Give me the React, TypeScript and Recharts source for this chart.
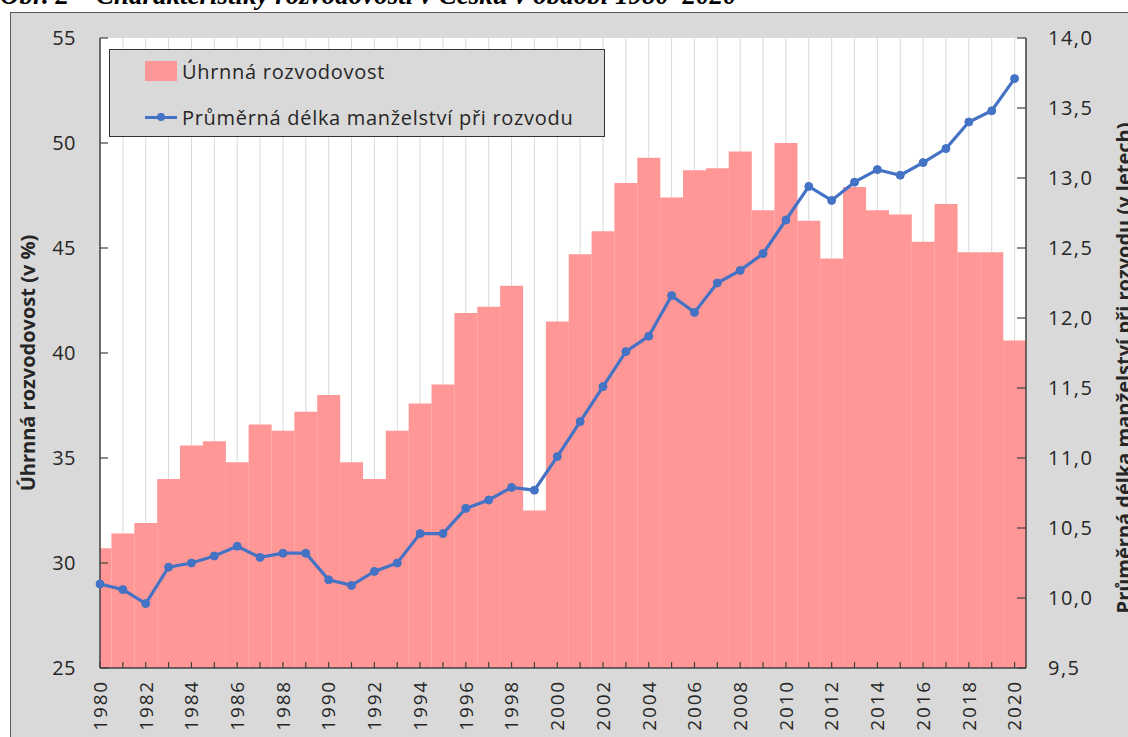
import { ComposedChart, Bar, Line, XAxis, YAxis, CartesianGrid } from 'recharts'

const years = [
  1980, 1981, 1982, 1983, 1984, 1985, 1986, 1987, 1988, 1989,
  1990, 1991, 1992, 1993, 1994, 1995, 1996, 1997, 1998, 1999,
  2000, 2001, 2002, 2003, 2004, 2005, 2006, 2007, 2008, 2009,
  2010, 2011, 2012, 2013, 2014, 2015, 2016, 2017, 2018, 2019,
  2020
]

// úhrnná rozvodovost (v %)
const divorceRate = [
  30.7, 31.4, 31.9, 34.0, 35.6, 35.8, 34.8, 36.6, 36.3, 37.2,
  38.0, 34.8, 34.0, 36.3, 37.6, 38.5, 41.9, 42.2, 43.2, 32.5,
  41.5, 44.7, 45.8, 48.1, 49.3, 47.4, 48.7, 48.8, 49.6, 46.8,
  50.0, 46.3, 44.5, 47.9, 46.8, 46.6, 45.3, 47.1, 44.8, 44.8,
  40.6
]

// průměrná délka manželství při rozvodu (v letech)
const marriageDuration = [
  10.1, 10.06, 9.96, 10.22, 10.25, 10.3, 10.37, 10.29, 10.32, 10.32,
  10.13, 10.09, 10.19, 10.25, 10.46, 10.46, 10.64, 10.7, 10.79, 10.77,
  11.01, 11.26, 11.51, 11.76, 11.87, 12.16, 12.04, 12.25, 12.34, 12.46,
  12.7, 12.94, 12.84, 12.97, 13.06, 13.02, 13.11, 13.21, 13.4, 13.48,
  13.71
]

const leftTicks = [25, 30, 35, 40, 45, 50, 55]
const rightTicks = [9.5, 10, 10.5, 11, 11.5, 12, 12.5, 13, 13.5, 14]
const yearLabels = years.filter((y) => y % 2 === 0)

const barName = 'Úhrnná rozvodovost'
const lineName = 'Průměrná délka manželství při rozvodu'
const leftTitle = 'Úhrnná rozvodovost (v %)'
const rightTitle = 'Průměrná délka manželství při rozvodu (v letech)'
const figTitle = 'Obr. 2 – Charakteristiky rozvodovosti v Česku v období 1980–2020'

const data = years.map((year, i) => ({
  year,
  rate: divorceRate[i],
  duration: marriageDuration[i]
}))

const axisColor = '#404040'
const textColor = '#262626'
const barColor = '#ff9797'
const lineColor = '#4472c4'

const XTick = (props: any) => {
  const { x, y, payload } = props
  const v = payload.value
  return (
    <g>
      <line x1={x} y1={y} x2={x} y2={y - 6} stroke={axisColor} strokeWidth={1.2} />
      {yearLabels.includes(v) && (
        <text
          transform={`translate(${x},${y + 12}) rotate(-90)`}
          textAnchor="end"
          dy="0.36em"
          fontSize={19}
          fill={textColor}
          letterSpacing={1.8}
        >
          {v}
        </text>
      )}
    </g>
  )
}

const LeftTick = (props: any) => {
  const { x, y, payload } = props
  return (
    <g>
      <line x1={x} y1={y} x2={x + 8} y2={y} stroke={axisColor} strokeWidth={1.2} />
      <text x={x - 24} y={y} dy="0.36em" textAnchor="end" fontSize={20} fill={textColor} letterSpacing={0.5}>
        {payload.value}
      </text>
    </g>
  )
}

const RightTick = (props: any) => {
  const { x, y, payload } = props
  return (
    <g>
      <line x1={x - 9} y1={y} x2={x} y2={y} stroke={axisColor} strokeWidth={1.2} />
      <text x={x + 22} y={y} dy="0.36em" textAnchor="start" fontSize={20} fill={textColor} letterSpacing={1.5}>
        {Number(payload.value).toFixed(1).replace('.', ',')}
      </text>
    </g>
  )
}

export default function App() {
  return (
    <div
      style={{
        position: 'absolute',
        left: 0,
        top: 0,
        width: 1128,
        height: 737,
        overflow: 'hidden',
        background: '#fff',
        fontFamily: '"Open Sans", sans-serif'
      }}
    >
      <div
        style={{
          position: 'absolute',
          left: 0,
          top: -18,
          fontFamily: '"Liberation Serif", serif',
          fontWeight: 'bold',
          fontStyle: 'italic',
          fontSize: 27,
          lineHeight: '26px',
          whiteSpace: 'nowrap'
        }}
      >
        {figTitle}
      </div>
      <div
        style={{
          position: 'absolute',
          left: 10,
          top: 12,
          width: 1200,
          height: 800,
          background: '#d9d9d9',
          border: '1px solid #595959'
        }}
      />
      <div style={{ position: 'absolute', left: 0, top: 0 }}>
        <ComposedChart
          width={1128}
          height={737}
          data={data}
          margin={{ top: 38, right: 0, bottom: 0, left: 0 }}
          barCategoryGap={0}
          barGap={0}
        >
          <CartesianGrid vertical horizontal={false} stroke="#d9d9d9" fill="#ffffff" />
          <XAxis
            dataKey="year"
            type="number"
            domain={[1980, 2020.5]}
            ticks={years}
            interval={0}
            allowDataOverflow
            height={69}
            tickSize={0}
            tickMargin={0}
            tickLine={false}
            axisLine={{ stroke: axisColor, strokeWidth: 1.5 }}
            tick={<XTick />}
          />
          <XAxis
            xAxisId="line"
            dataKey="year"
            type="number"
            domain={[1980, 2020.5]}
            hide
          />
          <XAxis
            xAxisId="top"
            orientation="top"
            type="number"
            domain={[1980, 2020.5]}
            height={0}
            tick={false}
            tickLine={false}
            axisLine={{ stroke: axisColor, strokeWidth: 1.5 }}
          />
          <YAxis
            yAxisId="left"
            orientation="left"
            width={100}
            domain={[25, 55]}
            ticks={leftTicks}
            interval={0}
            tickSize={0}
            tickMargin={0}
            tickLine={false}
            axisLine={{ stroke: axisColor, strokeWidth: 1.5 }}
            tick={<LeftTick />}
          />
          <YAxis
            yAxisId="right"
            orientation="right"
            width={102}
            domain={[9.5, 14]}
            ticks={rightTicks}
            interval={0}
            tickSize={0}
            tickMargin={0}
            tickLine={false}
            axisLine={{ stroke: axisColor, strokeWidth: 1.5 }}
            tick={<RightTick />}
          />
          <Bar
            yAxisId="left"
            dataKey="rate"
            name={barName}
            fill={barColor}
            isAnimationActive={false}
          />
          <Line
            xAxisId="line"
            yAxisId="right"
            dataKey="duration"
            name={lineName}
            stroke={lineColor}
            strokeWidth={3.2}
            dot={{ r: 4, fill: lineColor, stroke: lineColor, strokeWidth: 1 }}
            isAnimationActive={false}
          />
        </ComposedChart>
      </div>

      <div
        style={{
          position: 'absolute',
          left: 109,
          top: 49,
          width: 496,
          height: 88,
          boxSizing: 'border-box',
          background: '#d9d9d9',
          border: '1.5px solid #333',
          color: textColor,
          fontSize: 20,
          letterSpacing: 0.7
        }}
      >
        <div style={{ position: 'absolute', left: 35, top: 11, width: 32, height: 20, background: barColor }} />
        <div style={{ position: 'absolute', left: 72, top: 21, transform: 'translateY(-50%)', whiteSpace: 'nowrap' }}>
          {barName}
        </div>
        <div style={{ position: 'absolute', left: 35, top: 65.5, width: 32, height: 3, background: lineColor }} />
        <div
          style={{
            position: 'absolute',
            left: 47,
            top: 63,
            width: 8,
            height: 8,
            borderRadius: 4,
            background: lineColor
          }}
        />
        <div style={{ position: 'absolute', left: 72, top: 67, transform: 'translateY(-50%)', whiteSpace: 'nowrap' }}>
          {lineName}
        </div>
      </div>

      <div
        style={{
          position: 'absolute',
          left: 27,
          top: 363,
          transform: 'translate(-50%, -50%) rotate(-90deg)',
          whiteSpace: 'nowrap',
          fontWeight: 'bold',
          fontSize: 20,
          color: textColor
        }}
      >
        {leftTitle}
      </div>
      <div
        style={{
          position: 'absolute',
          left: 1123,
          top: 368,
          transform: 'translate(-50%, -50%) rotate(-90deg)',
          whiteSpace: 'nowrap',
          fontWeight: 'bold',
          fontSize: 20,
          color: textColor
        }}
      >
        {rightTitle}
      </div>
    </div>
  )
}
